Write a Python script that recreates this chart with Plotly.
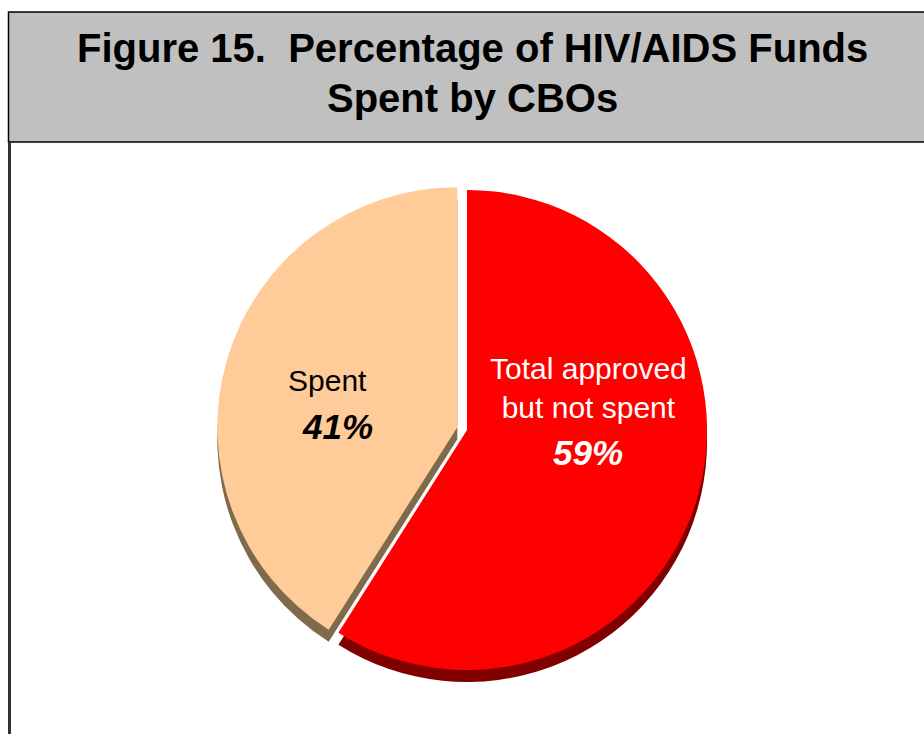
import plotly.graph_objects as go

# ---- data ----
labels = ["Total approved but not spent", "Spent"]
label_lines = ["Total approved<br>but not spent", "Spent"]
values = [59, 41]
colors_top = ["#FF0000", "#FFCC99"]
colors_side = ["#800000", "#806A4C"]
pulls = [0, 0.042]
title_lines = ["Figure 15.  Percentage of HIV/AIDS Funds", "Spent by CBOs"]

W, H = 924, 734
FONT = "Liberation Sans, Arial, Helvetica, sans-serif"


def px(x, y):
    return x / W, 1 - y / H


# pie geometry (pixels)
cx, cy, r = 467, 430, 240
half = r * (1 + max(pulls))
dx0, dx1 = (cx - half) / W, (cx + half) / W
dy0, dy1 = 1 - (cy + half) / H, 1 - (cy - half) / H
depth = 12 / H

fig = go.Figure()

# side / depth layer
fig.add_trace(go.Pie(
    labels=labels, values=values, sort=False, direction="clockwise", rotation=0,
    pull=pulls, marker=dict(colors=colors_side, line=dict(width=0)),
    textinfo="none", hoverinfo="skip", showlegend=False,
    domain=dict(x=[dx0, dx1], y=[dy0 - depth, dy1 - depth]),
))
# top face
fig.add_trace(go.Pie(
    labels=labels, values=values, sort=False, direction="clockwise", rotation=0,
    pull=pulls, marker=dict(colors=colors_top, line=dict(color="white", width=0)),
    textinfo="none", hoverinfo="label+percent", showlegend=False,
    domain=dict(x=[dx0, dx1], y=[dy0, dy1]),
))

shapes = [
    dict(type="rect", xref="paper", yref="paper",
         x0=8.5 / W, x1=1.02, y0=1 - 142 / H, y1=1 - 12 / H,
         fillcolor="#C0C0C0", line=dict(color="black", width=1.5), layer="below"),
    dict(type="line", xref="paper", yref="paper",
         x0=9.5 / W, x1=9.5 / W, y0=-0.02, y1=1 - 142 / H,
         line=dict(color="#333333", width=3), layer="below"),
]

annotations = []
tx, ty = px(473, 48)
annotations.append(dict(x=tx, y=ty, xref="paper", yref="paper", showarrow=False,
                        text="<b>" + title_lines[0].replace("  ", "&nbsp; ") + "</b>",
                        font=dict(family=FONT, size=40, color="black"),
                        xanchor="center", yanchor="middle"))
tx, ty = px(473, 98)
annotations.append(dict(x=tx, y=ty, xref="paper", yref="paper", showarrow=False,
                        text="<b>" + title_lines[1] + "</b>",
                        font=dict(family=FONT, size=40, color="black"),
                        xanchor="center", yanchor="middle"))

# slice labels
label_pos = [((588, 388), (588, 452), "white"), ((327, 380), (337, 426), "black")]
for i in range(len(labels)):
    (lx, ly), (vx, vy), col = label_pos[i]
    ax, ay = px(lx, ly)
    annotations.append(dict(x=ax, y=ay, xref="paper", yref="paper", showarrow=False,
                            text=label_lines[i], align="center",
                            font=dict(family=FONT, size=30, color=col),
                            xanchor="center", yanchor="middle"))
    ax, ay = px(vx, vy)
    annotations.append(dict(x=ax, y=ay, xref="paper", yref="paper", showarrow=False,
                            text="<b><i>%d%%</i></b>" % values[i],
                            font=dict(family=FONT, size=35, color=col),
                            xanchor="center", yanchor="middle"))

fig.update_layout(
    width=W, height=H, margin=dict(l=0, r=0, t=0, b=0),
    paper_bgcolor="white", plot_bgcolor="white",
    shapes=shapes, annotations=annotations,
)

fig.write_html("out.html")
